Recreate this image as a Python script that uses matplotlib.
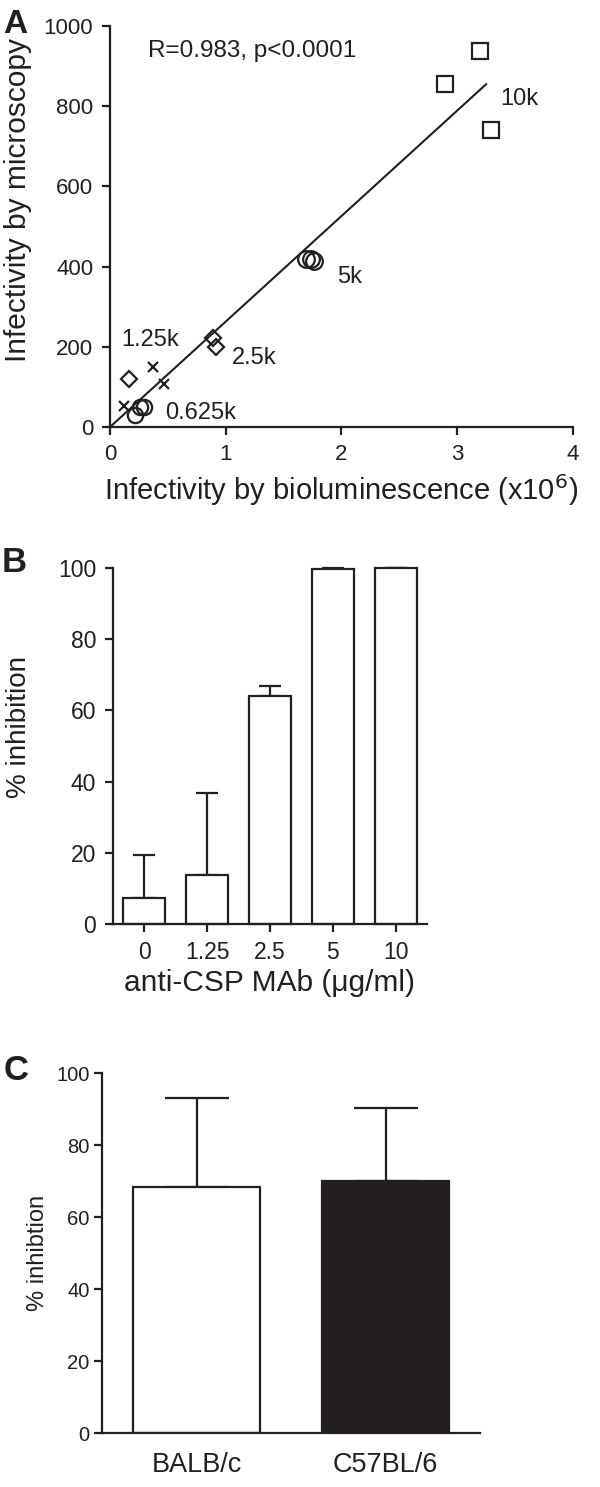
import matplotlib
matplotlib.use("Agg")
import matplotlib.pyplot as plt

plt.rcParams['font.family'] = ['Liberation Sans', 'DejaVu Sans']

# Panel A data (x in 10^6 units)
sq_x = [3.20, 2.89, 3.29]
sq_y = [937, 855, 740]
circ_x = [1.69, 1.74, 1.76]
circ_y = [418, 418, 415]
dia_x = [0.89, 0.92, 0.165]
dia_y = [221, 200, 119]
cross_x = [0.37, 0.47, 0.12]
cross_y = [151, 107, 52]
low_x = [0.26, 0.22, 0.29]
low_y = [50, 30, 50]
fit_x = [0, 3.25]
fit_y = [0, 855]
dose_labels = ["10k", "5k", "2.5k", "1.25k", "0.625k"]
dose_label_x = [3.37, 1.96, 1.05, 0.10, 0.475]
dose_label_y = [817, 375, 172, 216, 35]

# Panel B data
b_cats = ["0", "1.25", "2.5", "5", "10"]
b_vals = [7.3, 13.7, 64.0, 99.6, 100.0]
b_err = [12.1, 23.1, 3.0, 0.3, 0.1]

# Panel C data
c_cats = ["BALB/c", "C57BL/6"]
c_vals = [68.3, 70.0]
c_err = [24.7, 20.3]
c_colors = ["white", "#231f20"]

fig = plt.figure(figsize=(6, 14.87), dpi=100)
lw = 1.6
ink = "#231f20"

def style(ax, ts, pad):
    for s in ['top', 'right']:
        ax.spines[s].set_visible(False)
    for s in ['left', 'bottom']:
        ax.spines[s].set_linewidth(lw)
        ax.spines[s].set_color(ink)
    ax.tick_params(width=lw, length=5.5, pad=pad, color=ink, labelsize=ts, labelcolor=ink)

# Panel A
axA = fig.add_axes([0.1833, 0.7128, 0.9550 - 0.1833, 0.9825 - 0.7128])
style(axA, 16, 6.5)
axA.plot(fit_x, fit_y, color=ink, lw=1.5)
mk = dict(mfc='none', mec=ink, mew=1.6, ls='none', clip_on=False)
axA.plot(sq_x, sq_y, marker='s', ms=12, **mk)
axA.plot(circ_x, circ_y, marker='o', ms=12, **mk)
axA.plot(dia_x, dia_y, marker='D', ms=8, **mk)
axA.plot(cross_x, cross_y, marker='x', ms=7, **mk)
axA.plot(low_x, low_y, marker='o', ms=11, **mk)
for t, x, y in zip(dose_labels, dose_label_x, dose_label_y):
    axA.text(x, y, t, fontsize=17, color=ink, va='center', ha='left')
axA.text(0.33, 937, "R=0.983, p<0.0001", fontsize=17.5, color=ink, va='center', ha='left')
axA.set_xlim(0, 4)
axA.set_ylim(0, 1000)
axA.set_xticks([0, 1, 2, 3, 4])
axA.set_yticks([0, 200, 400, 600, 800, 1000])
axA.set_xlabel("Infectivity by bioluminescence (x10$^{6}$)", fontsize=21, color=ink, labelpad=5)
axA.set_ylabel("Infectivity by microscopy", fontsize=21.5, color=ink)
axA.yaxis.set_label_coords(-0.168, 0.566)
fig.text(0.005, 0.994, "A", fontsize=24, fontweight='bold', color=ink, va='top', ha='left')

# Panel B
axB = fig.add_axes([0.188, 0.3786, 0.712 - 0.188, 0.618 - 0.3786])
style(axB, 16.5, 6.5)
xb = list(range(len(b_cats)))
axB.bar(xb, b_vals, width=0.67, color='white', edgecolor=ink, linewidth=lw, clip_on=False, zorder=2)
axB.errorbar(xb, b_vals, yerr=[[0]*len(b_err), b_err], fmt='none', ecolor=ink,
             elinewidth=lw, capsize=8, capthick=lw, clip_on=False, zorder=1)
axB.set_xlim(-0.5, 4.5)
axB.set_ylim(0, 100)
axB.set_xticks(xb)
axB.set_xticklabels(b_cats)
axB.set_yticks([0, 20, 40, 60, 80, 100])
axB.set_xlabel("anti-CSP MAb (\u03bcg/ml)", fontsize=21.5, color=ink, labelpad=4)
axB.set_ylabel("% inhibition", fontsize=20, color=ink)
axB.yaxis.set_label_coords(-0.258, 0.553)
fig.text(0.003, 0.633, "B", fontsize=25, fontweight='bold', color=ink, va='top', ha='left')

# Panel C
axC = fig.add_axes([0.17, 0.0363, 0.80 - 0.17, 0.2784 - 0.0363])
style(axC, 14.5, 3.5)
xc = list(range(len(c_cats)))
axC.bar(xc, c_vals, width=0.667, color=c_colors, edgecolor=ink, linewidth=lw, zorder=2)
axC.errorbar(xc, c_vals, yerr=[[0]*len(c_err), c_err], fmt='none', ecolor=ink,
             elinewidth=lw, capsize=23, capthick=lw, zorder=1)
axC.set_xlim(-0.5, 1.5)
axC.set_ylim(0, 100)
axC.set_xticks(xc)
axC.set_xticklabels(c_cats, fontsize=19.5)
axC.tick_params(axis='x', length=0, pad=14)
axC.set_yticks([0, 20, 40, 60, 80, 100])
axC.set_ylabel("% inhibtion", fontsize=17, color=ink, labelpad=5)
fig.text(0.006, 0.2915, "C", fontsize=25, fontweight='bold', color=ink, va='top', ha='left')

fig.savefig("out.png", dpi=100)
